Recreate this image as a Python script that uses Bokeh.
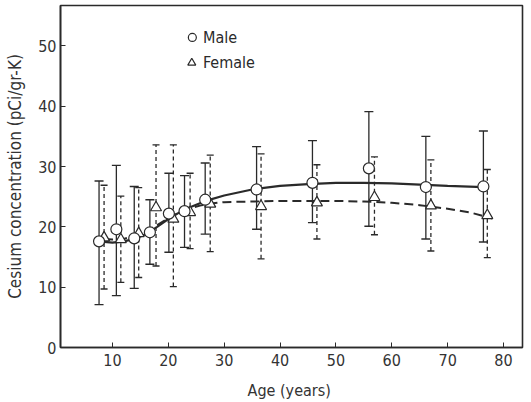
from bokeh.plotting import figure
from bokeh.models import Range1d, FixedTicker, ColumnDataSource, Label
from bokeh.embed import file_html
from bokeh.resources import INLINE

# ---- data ----
male_age = [7.6, 10.7, 13.9, 16.7, 20.1, 22.9, 26.6, 35.8, 45.8, 55.9, 66.1, 76.4]
male_mean = [17.6, 19.6, 18.1, 19.1, 22.2, 22.6, 24.5, 26.2, 27.3, 29.7, 26.6, 26.7]
male_upper = [27.6, 30.2, 26.7, 24.5, 28.9, 28.5, 30.6, 33.3, 34.3, 39.1, 35.0, 35.9]
male_lower = [7.1, 8.6, 9.8, 13.8, 15.8, 16.6, 18.8, 19.6, 20.7, 20.1, 18.0, 17.5]

female_age = [8.5, 11.5, 14.7, 17.8, 20.9, 23.9, 27.5, 36.6, 46.6, 56.9, 67.0, 77.1]
female_mean = [18.2, 17.9, 18.9, 23.2, 21.3, 22.4, 23.8, 23.4, 24.0, 24.9, 23.5, 21.9]
female_upper = [26.9, 25.1, 26.5, 33.6, 33.6, 28.9, 31.9, 32.1, 30.3, 31.6, 31.1, 29.5]
female_lower = [9.7, 10.8, 11.6, 13.5, 10.1, 16.4, 15.9, 14.7, 18.0, 18.7, 16.0, 14.9]

male_fit_age = [7.6, 10, 12, 14, 16, 18, 20, 22, 24, 27, 30, 35, 40, 45, 50, 55, 60, 65, 70, 76.4]
male_fit_conc = [17.6, 17.4, 17.6, 18.0, 18.8, 20.0, 21.3, 22.4, 23.3, 24.4, 25.2, 26.2, 26.8, 27.1, 27.3, 27.3, 27.2, 27.0, 26.8, 26.6]

female_fit_age = [8.5, 10, 12, 14, 16, 18, 20, 22, 24, 26, 28, 30, 35, 40, 45, 50, 55, 60, 65, 70, 74, 78]
female_fit_conc = [18.0, 17.9, 18.0, 18.5, 19.3, 20.3, 21.4, 22.4, 23.1, 23.6, 23.9, 24.1, 24.2, 24.3, 24.3, 24.3, 24.2, 24.0, 23.6, 23.0, 22.4, 21.4]

x_ticks = [10, 20, 30, 40, 50, 60, 70, 80]
y_ticks = [0, 10, 20, 30, 40, 50]

FONT = "DejaVu Sans Condensed"
INK = "#2a2a2a"

p = figure(width=531, height=402, output_backend="svg", toolbar_location=None,
           x_range=Range1d(0.7, 83.4), y_range=Range1d(0, 56.7),
           min_border_left=60, min_border_right=9, min_border_top=5, min_border_bottom=8)
p.grid.visible = False
p.background_fill_color = "white"
p.border_fill_color = "white"
p.outline_line_color = INK
p.outline_line_width = 1.6

for ax in (p.xaxis[0], p.yaxis[0]):
    ax.axis_line_color = INK
    ax.axis_line_width = 1.6
    ax.major_tick_in = 5
    ax.major_tick_out = 0
    ax.minor_tick_line_color = None
    ax.major_tick_line_color = INK
    ax.major_label_text_font = FONT
    ax.major_label_text_font_size = "16px"
    ax.major_label_text_color = "#333333"
    ax.axis_label_text_font = FONT
    ax.axis_label_text_font_style = "normal"
    ax.axis_label_text_color = "#333333"
p.xaxis.axis_label_text_font_size = "16px"
p.yaxis.axis_label_text_font_size = "17px"
p.xaxis.ticker = FixedTicker(ticks=x_ticks)
p.yaxis.ticker = FixedTicker(ticks=y_ticks)
p.xaxis.major_label_standoff = 6
p.yaxis.major_label_standoff = 4
p.xaxis.axis_label = "Age  (years)"
p.yaxis.axis_label = "Cesium concentration (pCi/gr-K)"
p.xaxis.axis_label_standoff = 12
p.yaxis.axis_label_standoff = 10

ms = ColumnDataSource(dict(x=male_age, y=male_mean, top=male_upper, bot=male_lower))
fs = ColumnDataSource(dict(x=female_age, y=female_mean, top=female_upper, bot=female_lower))

# fitted curves
p.line(male_fit_age, male_fit_conc, line_color=INK, line_width=2.2)
p.line(female_fit_age, female_fit_conc, line_color=INK, line_width=2.0, line_dash="9 5")

# error bars
p.segment("x", "bot", "x", "top", source=ms, line_color=INK, line_width=1.3)
p.scatter("x", "top", source=ms, marker="dash", size=9, line_color=INK, line_width=1.4)
p.scatter("x", "bot", source=ms, marker="dash", size=9, line_color=INK, line_width=1.4)

p.segment("x", "bot", "x", "top", source=fs, line_color=INK, line_width=1.3, line_dash="4 3")
p.scatter("x", "top", source=fs, marker="dash", size=7, line_color=INK, line_width=1.4)
p.scatter("x", "bot", source=fs, marker="dash", size=7, line_color=INK, line_width=1.4)

# points
p.scatter("x", "y", source=fs, marker="triangle", size=11, fill_color="white",
          line_color=INK, line_width=1.2)
p.scatter("x", "y", source=ms, marker="circle", size=11, fill_color="white",
          line_color=INK, line_width=1.2)

# legend
p.scatter([24.3], [51.4], marker="circle", size=8, fill_color="white", line_color=INK, line_width=1.2)
p.scatter([24.2], [47.2], marker="triangle", size=8, fill_color="white", line_color=INK, line_width=1.2)
p.add_layout(Label(x=26.2, y=51.4, text="Male", text_font=FONT, text_font_size="16px",
                   text_baseline="middle", text_color=INK))
p.add_layout(Label(x=26.2, y=47.2, text="Female", text_font=FONT, text_font_size="16px",
                   text_baseline="middle", text_color=INK))

open("out.html", "w").write(file_html(p, INLINE))
